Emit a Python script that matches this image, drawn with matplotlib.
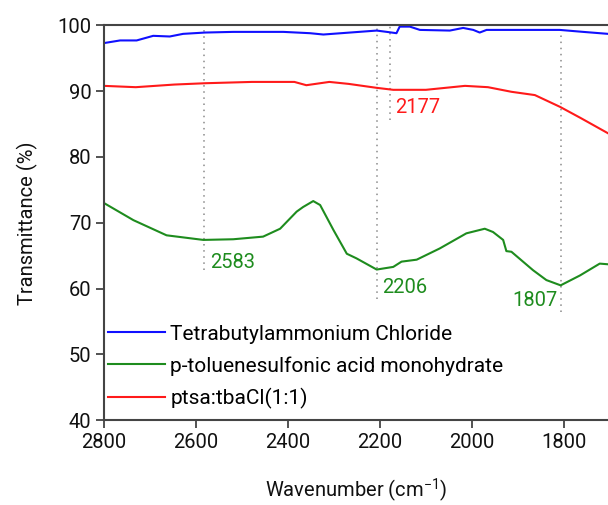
import matplotlib
matplotlib.use("Agg")
import matplotlib.pyplot as plt

plt.rcParams['font.family'] = ['Roboto', 'DejaVu Sans']
plt.rcParams['mathtext.fontset'] = 'custom'
plt.rcParams['mathtext.rm'] = 'Roboto'
plt.rcParams['mathtext.it'] = 'Roboto'

# Tetrabutylammonium Chloride (blue)
tba_wn = [2800, 2765, 2729, 2693, 2657, 2628, 2580, 2519, 2410, 2352, 2323, 2265,
          2207, 2185, 2164, 2157, 2135, 2113, 2048, 2019, 1997, 1983, 1968, 1903,
          1809, 1758, 1704]
tba_t = [97.3, 97.7, 97.7, 98.4, 98.3, 98.7, 98.9, 99.0, 99.0, 98.8, 98.6, 98.9,
         99.2, 99.0, 98.8, 99.8, 99.8, 99.3, 99.2, 99.6, 99.3, 98.9, 99.3, 99.3,
         99.3, 99.0, 98.7]

# p-toluenesulfonic acid monohydrate (green)
ptsa_wn = [2800, 2736, 2664, 2584, 2519, 2454, 2417, 2381, 2367, 2345, 2330, 2301,
           2272, 2251, 2207, 2171, 2153, 2120, 2070, 2012, 1972, 1954, 1932, 1925,
           1914, 1867, 1838, 1807, 1765, 1722, 1704]
ptsa_t = [73.0, 70.4, 68.1, 67.4, 67.5, 67.9, 69.1, 71.7, 72.4, 73.3, 72.7, 68.9,
          65.3, 64.6, 62.9, 63.3, 64.1, 64.4, 66.1, 68.4, 69.1, 68.6, 67.4, 65.7,
          65.6, 62.8, 61.3, 60.5, 62.0, 63.8, 63.7]

# ptsa:tbaCl(1:1) (red)
mix_wn = [2800, 2731, 2647, 2580, 2478, 2386, 2360, 2310, 2268, 2207, 2171, 2100,
          2015, 1965, 1914, 1863, 1808, 1763, 1704]
mix_t = [90.8, 90.6, 91.0, 91.2, 91.4, 91.4, 90.9, 91.4, 91.1, 90.5, 90.2, 90.2,
         90.8, 90.6, 89.9, 89.4, 87.6, 85.9, 83.6]

# marked peaks: position, bottom of guide line, label position, colour
peak_wn = [2583, 2206, 1807, 2177]
peak_line_bottom = [62.8, 58.5, 56.5, 85.6]
peak_label_x = [2570, 2196, 1813, 2166]
peak_label_y = [64.0, 60.2, 58.2, 87.5]
peak_label_ha = ['left', 'left', 'right', 'left']
peak_color = ['#1e8c1e', '#1e8c1e', '#1e8c1e', '#ff1a1a']

fig = plt.figure(figsize=(6.08, 5.05), dpi=100)
ax = fig.add_axes([104 / 608, 1 - 420.3 / 505, 1 - 104 / 608, (420.3 - 25.3) / 505])

for wn, bottom in zip(peak_wn, peak_line_bottom):
    ax.plot([wn, wn], [bottom, 100], color='#8a8a8a', linestyle=(0, (1, 3)),
            linewidth=1.1, zorder=1)

ax.plot(tba_wn, tba_t, color='#1010ff', linewidth=1.5, label='Tetrabutylammonium Chloride')
ax.plot(ptsa_wn, ptsa_t, color='#1e8c1e', linewidth=1.5, label='p-toluenesulfonic acid monohydrate')
ax.plot(mix_wn, mix_t, color='#ff1a1a', linewidth=1.5, label='ptsa:tbaCl(1:1)')

for wn, x, y, ha, c in zip(peak_wn, peak_label_x, peak_label_y, peak_label_ha, peak_color):
    ax.text(x, y, str(wn), color=c, fontsize=14.5, ha=ha, va='center')

ax.set_xlim(2800, 1704)
ax.set_ylim(40, 100)
ax.set_xticks([2800, 2600, 2400, 2200, 2000, 1800])
ax.set_yticks([40, 50, 60, 70, 80, 90, 100])

for side in ['left', 'bottom', 'top']:
    ax.spines[side].set_color('#444444')
    ax.spines[side].set_linewidth(1.5)
ax.spines['right'].set_visible(False)
ax.tick_params(direction='out', length=6, width=1.3, color='#444444',
               labelsize=14.5, labelcolor='#111111', pad=3)

ax.set_xlabel(r'Wavenumber (cm$^{-1}$)', fontsize=14.5, labelpad=18, color='#111111')
ax.set_ylabel('Transmittance (%)', fontsize=14.5, labelpad=14, color='#111111')

leg = ax.legend(loc='upper left', bbox_to_anchor=(0.008, 0.242), frameon=False,
                fontsize=15, handlelength=2.74, handletextpad=0.25, labelspacing=0.59,
                borderaxespad=0, borderpad=0)

fig.savefig('out.png', dpi=100)
